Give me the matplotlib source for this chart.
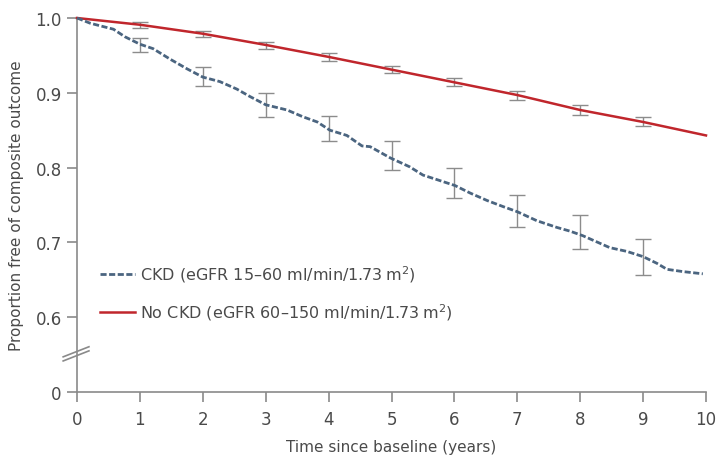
import matplotlib
matplotlib.use("Agg")
import matplotlib.pyplot as plt

plt.rcParams["font.family"] = ["DejaVu Sans"]
plt.rcParams["mathtext.fontset"] = "custom"
plt.rcParams["mathtext.rm"] = "DejaVu Sans"

# CKD curve (Kaplan-Meier)
ckd_t = [0, 0.21, 0.58, 0.76, 1.0, 1.21, 1.48, 1.75, 2.0, 2.27, 2.54, 2.75, 3.0,
         3.34, 3.59, 3.82, 4.02, 4.29, 4.53, 4.66, 4.98, 5.29, 5.5, 5.72, 6.01,
         6.25, 6.52, 6.77, 7.0, 7.31, 7.63, 7.84, 8.04, 8.47, 8.74, 9.0, 9.22,
         9.38, 9.63, 9.95]
ckd_v = [1.0, 0.993, 0.985, 0.975, 0.965, 0.959, 0.945, 0.932, 0.921, 0.915,
         0.905, 0.895, 0.884, 0.877, 0.868, 0.861, 0.850, 0.843, 0.829, 0.828,
         0.813, 0.801, 0.790, 0.784, 0.776, 0.766, 0.756, 0.748, 0.741, 0.729,
         0.720, 0.715, 0.709, 0.693, 0.688, 0.681, 0.672, 0.664, 0.661, 0.658]

# No CKD curve
nockd_t = [0, 1, 2, 3, 4, 5, 6, 7, 8, 9, 10]
nockd_v = [1.0, 0.991, 0.979, 0.964, 0.948, 0.931, 0.914, 0.897, 0.877, 0.861, 0.843]

# confidence intervals at whole years
ci_years = [1, 2, 3, 4, 5, 6, 7, 8, 9]
ckd_lo = [0.955, 0.909, 0.867, 0.835, 0.797, 0.760, 0.720, 0.691, 0.657]
ckd_hi = [0.973, 0.935, 0.900, 0.869, 0.835, 0.800, 0.763, 0.737, 0.705]
nockd_lo = [0.987, 0.975, 0.959, 0.943, 0.926, 0.909, 0.891, 0.870, 0.855]
nockd_hi = [0.994, 0.983, 0.968, 0.953, 0.936, 0.920, 0.903, 0.884, 0.868]

x_ticks = [0, 1, 2, 3, 4, 5, 6, 7, 8, 9, 10]
y_ticks = [0.5, 0.6, 0.7, 0.8, 0.9, 1.0]
y_tick_labels = ["0", "0.6", "0.7", "0.8", "0.9", "1.0"]

text_col = "#4a4a4a"
axis_col = "#8a8a8a"
red = "#c0262c"
blue = "#4b6580"

fig = plt.figure(figsize=(7.18, 4.60), dpi=100)
ax = fig.add_axes([77 / 718, 67 / 460, 629 / 718, 374 / 460])

# error bars (drawn first so the lines sit on top)
for lo, hi in [(ckd_lo, ckd_hi), (nockd_lo, nockd_hi)]:
    mid = [(a + b) / 2 for a, b in zip(lo, hi)]
    err = [[m - a for m, a in zip(mid, lo)], [b - m for m, b in zip(mid, hi)]]
    ax.errorbar(ci_years, mid, yerr=err, fmt="none", ecolor="#8c8c8c",
                elinewidth=1.0, capsize=5.5, capthick=1.0, zorder=2)

ax.plot(nockd_t, nockd_v, color=red, lw=1.8, zorder=3, clip_on=False,
        label="No CKD (eGFR 60\u2013150 ml/min/1.73\u2009m$^{2}$)")
ax.plot(ckd_t, ckd_v, color=blue, lw=2.0, dashes=(2.2, 0.9), zorder=3,
        clip_on=False, label="CKD (eGFR 15\u201360 ml/min/1.73\u2009m$^{2}$)")

ax.set_xlim(0, 10)
ax.set_ylim(0.5, 1.0)
ax.set_xticks(x_ticks)
ax.set_yticks(y_ticks)
ax.set_yticklabels(y_tick_labels)

for s in ["top", "right"]:
    ax.spines[s].set_visible(False)
for s in ["left", "bottom"]:
    ax.spines[s].set_color(axis_col)
    ax.spines[s].set_linewidth(1.2)

ax.tick_params(axis="both", direction="out", color=axis_col, width=1.2,
               labelcolor=text_col, labelsize=12)
ax.tick_params(axis="x", length=7, pad=6)
ax.tick_params(axis="y", length=7, pad=4)

# axis break marks
for dy in [0.0, 0.011]:
    ax.plot([-0.022, 0.019], [0.083 + dy, 0.110 + dy], transform=ax.transAxes,
            color=axis_col, lw=1.2, clip_on=False)

ax.set_xlabel("Time since baseline (years)", fontsize=11, color=text_col,
              labelpad=8)
ax.set_ylabel("Proportion free of composite outcome", fontsize=11,
              color=text_col, labelpad=8)

handles, labels = ax.get_legend_handles_labels()
leg = ax.legend(handles[::-1], labels[::-1], loc="upper left",
                bbox_to_anchor=(0.014, 0.382), frameon=False, fontsize=11.5,
                handlelength=2.2, handletextpad=0.3, labelspacing=1.1,
                labelcolor=text_col)

fig.savefig("out.png", dpi=100)
